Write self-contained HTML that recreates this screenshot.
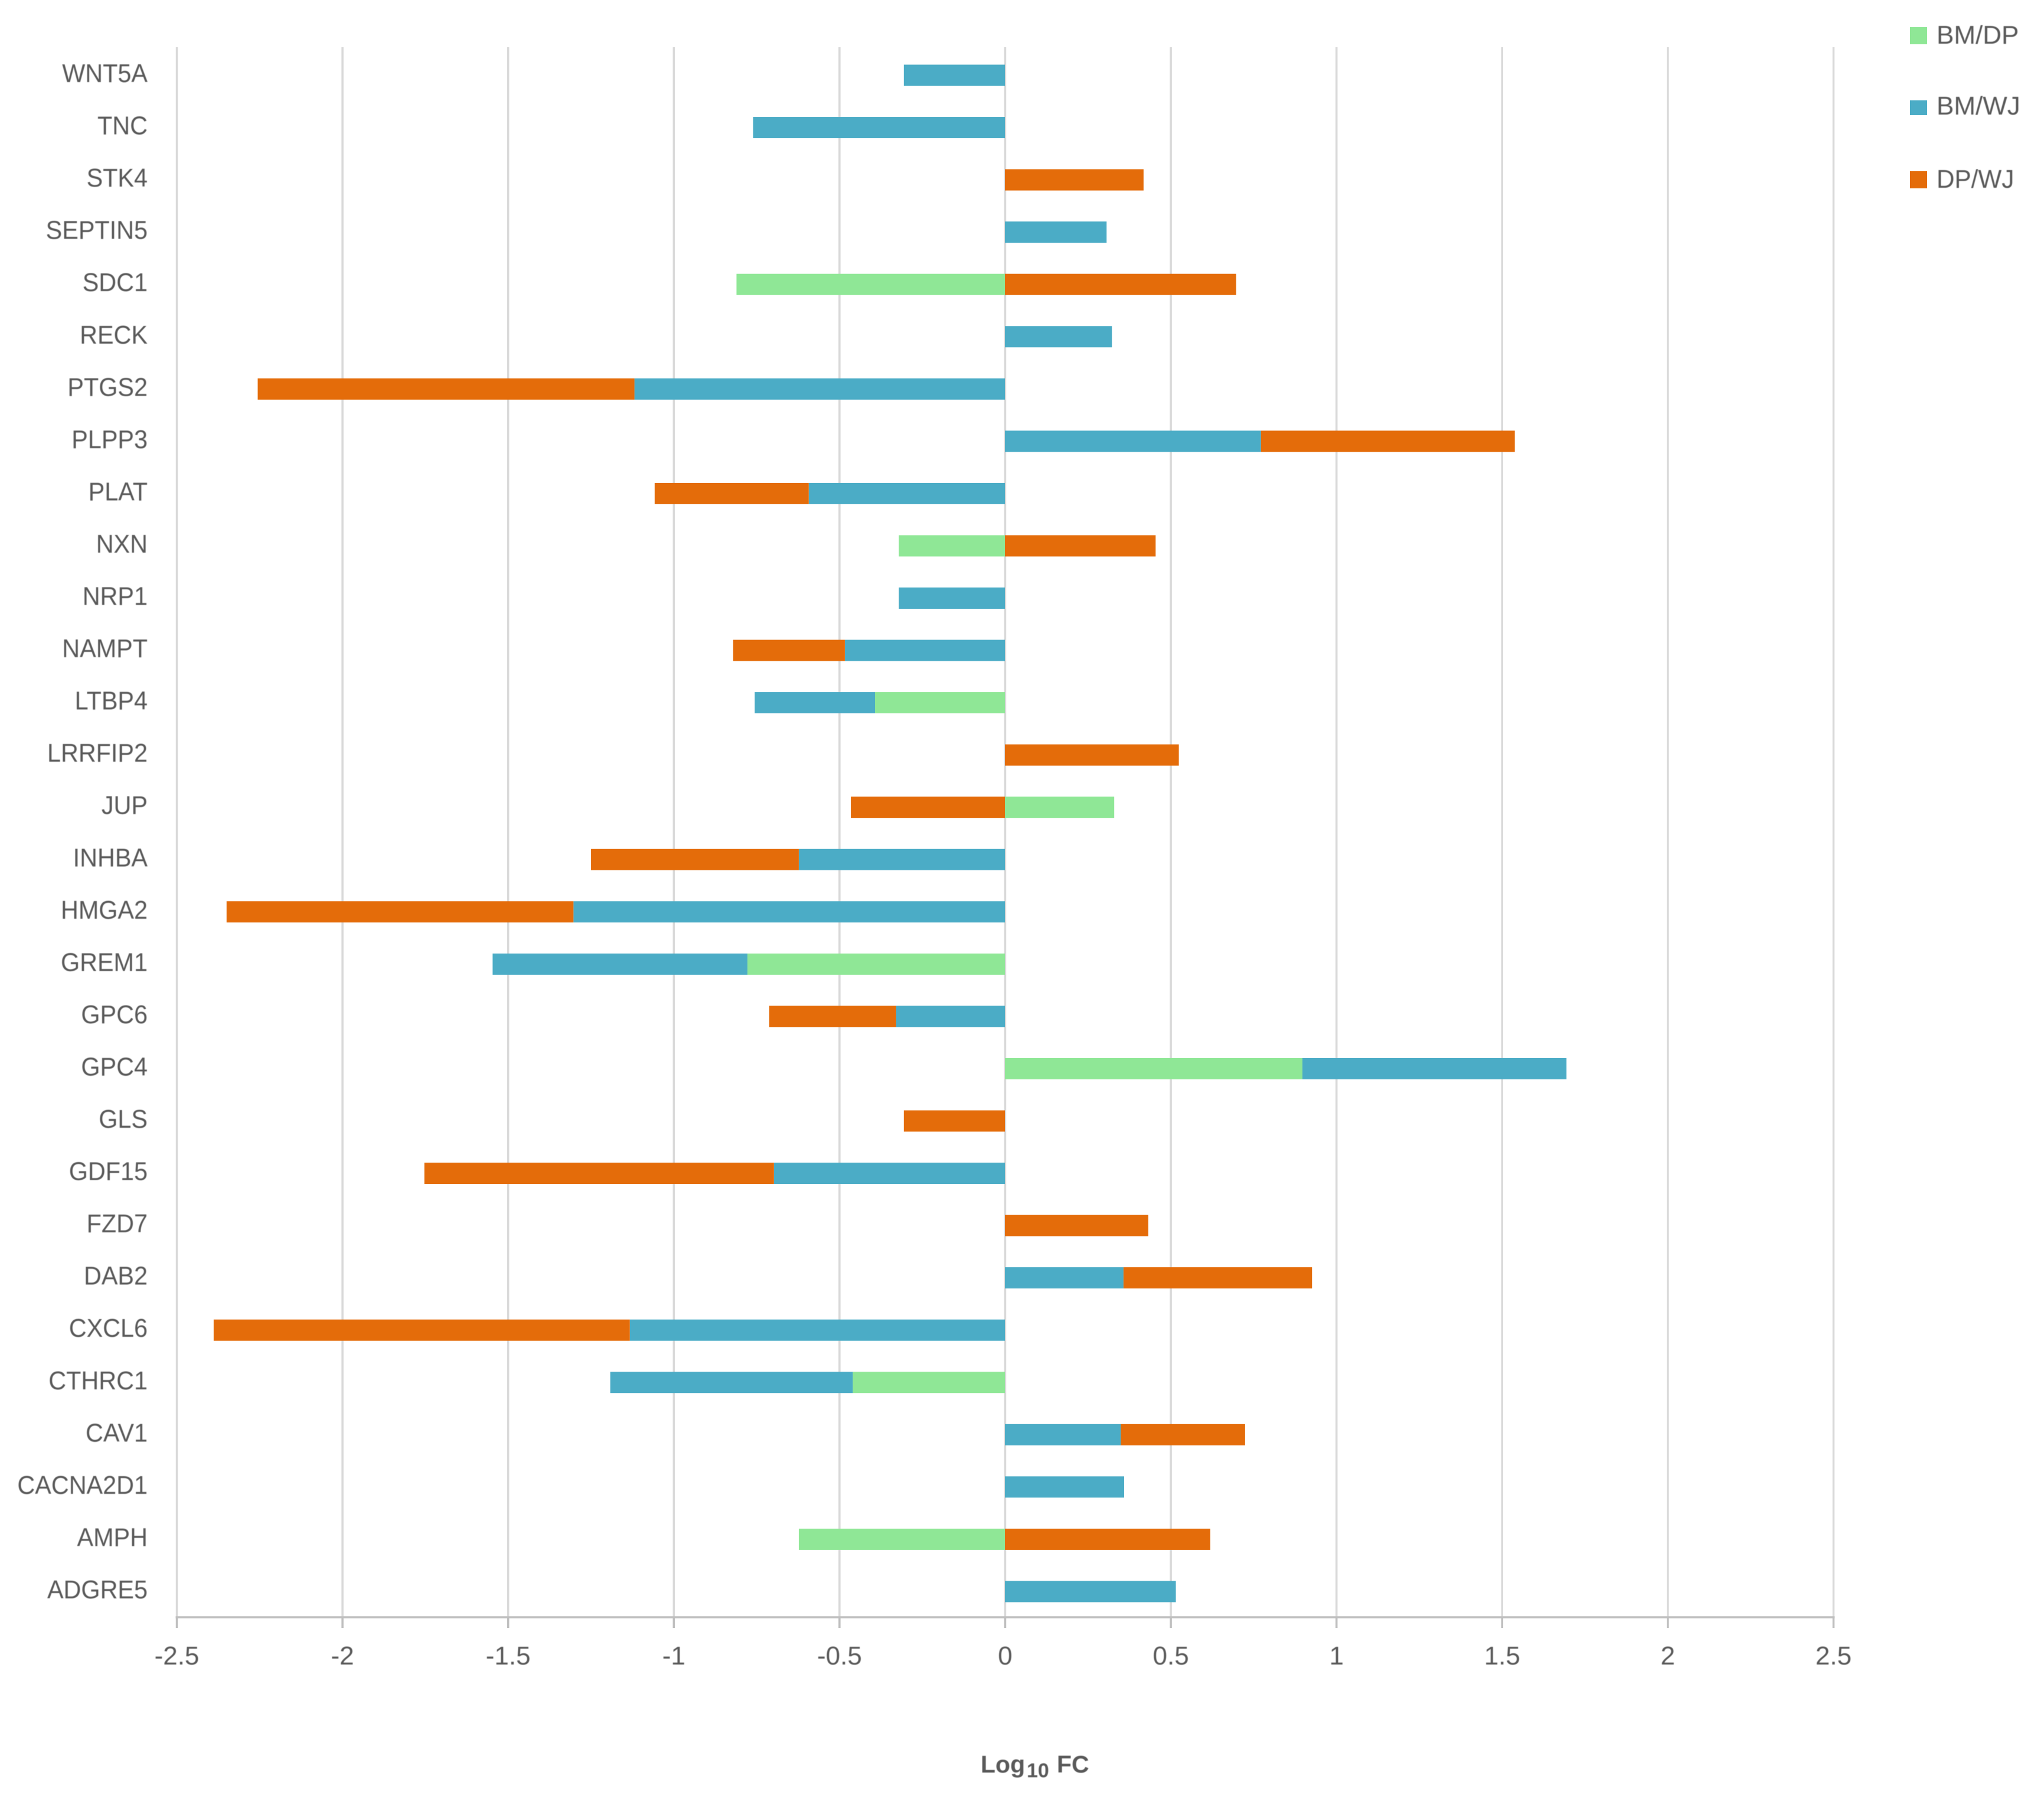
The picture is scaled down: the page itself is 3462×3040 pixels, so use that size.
<!DOCTYPE html>
<html>
<head>
<meta charset="utf-8">
<title>Log10 FC stacked bar chart</title>
<style>
html,body{margin:0;padding:0;background:#fff;width:3462px;height:3040px;overflow:hidden}
svg{display:block}
text{font-family:"Liberation Sans",sans-serif;fill:#595959;filter:blur(.6px)}
</style>
</head>
<body>
<svg id="chart" xmlns="http://www.w3.org/2000/svg" width="3462" height="3040" viewBox="0 0 3462 3040">
  <rect x="0" y="0" width="3462" height="3040" fill="#ffffff"/>
  <g id="grid"></g>
  <g id="bars"></g>
  <g id="axis"></g>
  <g id="xlabels"></g>
  <g id="ylabels"></g>
  <text font-weight="700" font-size="41" y="3002"><tspan x="1661">Log</tspan><tspan x="1739" y="3010" font-size="34">10</tspan><tspan x="1790" y="3002">FC</tspan></text>
  <g>
    <g>
      <rect x="3235" y="46" width="29" height="29" fill="#8FE796"/>
      <text x="3280" y="74" font-size="44">BM/DP</text>
    </g>
    <g>
      <rect x="3235" y="170" width="29" height="25" fill="#4BACC6"/>
      <text x="3280" y="194" font-size="44">BM/WJ</text>
    </g>
    <g>
      <rect x="3235" y="290" width="29" height="29" fill="#E46C0A"/>
      <text x="3280" y="318" font-size="44" transform="translate(3280 0) scale(.96 1) translate(-3280 0)">DP/WJ</text>
    </g>
  </g>
</svg>
<script>
const categories = ["WNT5A","TNC","STK4","SEPTIN5","SDC1","RECK","PTGS2","PLPP3","PLAT","NXN","NRP1","NAMPT","LTBP4","LRRFIP2","JUP","INHBA","HMGA2","GREM1","GPC6","GPC4","GLS","GDF15","FZD7","DAB2","CXCL6","CTHRC1","CAV1","CACNA2D1","AMPH","ADGRE5"];
const bmDp = [0,0,0,0,-0.81,0,0,0,0,-0.32,0,0,-0.392,0,0.33,0,0,-0.777,0,0.898,0,0,0,0,0,-0.459,0,0,-0.622,0];
const bmWj = [-0.305,-0.76,0,0.307,0,0.323,-1.118,0.773,-0.592,0,-0.32,-0.483,-0.363,0,0,-0.622,-1.302,-0.769,-0.328,0.797,0,-0.697,0,0.358,-1.132,-0.732,0.35,0.36,0,0.516];
const dpWj = [0,0,0.4185,0,0.698,0,-1.137,0.766,-0.465,0.455,0,-0.337,0,0.525,-0.465,-0.627,-1.047,0,-0.383,0,-0.305,-1.055,0.433,0.569,-1.256,0,0.375,0,0.62,0];
const xTicks = [-2.5,-2,-1.5,-1,-0.5,0,0.5,1,1.5,2,2.5];

const NS = "http://www.w3.org/2000/svg";
const ZERO_X = 1702.5, UNIT = 561.2;
const FIRST_ROW = 127.5, ROW_STEP = 88.55, BAR_H = 36;
const PLOT_TOP = 80, AXIS_Y = 2739, LABEL_X = 250, LABEL_SQUEEZE = 0.94;

function xScale(v){ return ZERO_X + v * UNIT; }
function yScale(i){ return FIRST_ROW + i * ROW_STEP; }
function make(tag, attrs, parent){
  const el = document.createElementNS(NS, tag);
  for (const k in attrs) el.setAttribute(k, attrs[k]);
  parent.appendChild(el);
  return el;
}

const gridG = document.getElementById("grid");
const axisG = document.getElementById("axis");
const xLabelG = document.getElementById("xlabels");
const yLabelG = document.getElementById("ylabels");
const barG = document.getElementById("bars");

xTicks.forEach(function(t){
  const gl = make("line", {x1:xScale(t), x2:xScale(t), y1:PLOT_TOP, y2:AXIS_Y, stroke:"#d9d9d9", "stroke-width":3.5}, gridG);
  
  
  const tk = make("line", {x1:xScale(t), x2:xScale(t), y1:AXIS_Y, y2:2757, stroke:"#bfbfbf", "stroke-width":3.5}, axisG);
  
  
  const lb = make("text", {x:xScale(t), y:2819, "text-anchor":"middle", "font-size":44}, xLabelG);
  
  
  lb.textContent = String(t);
});
const axisLine = make("line", {x1:xScale(-2.5)-2, x2:xScale(2.5)+2, y1:AXIS_Y, y2:AXIS_Y, stroke:"#bfbfbf", "stroke-width":3.5}, axisG);



const seriesList = [
  {key:"bm-dp", values:bmDp, color:"#8FE796"},
  {key:"bm-wj", values:bmWj, color:"#4BACC6"},
  {key:"dp-wj", values:dpWj, color:"#E46C0A"}
];

categories.forEach(function(name, i){
  const lab = make("text", {"text-anchor":"end", "font-size":44, transform:"translate(" + LABEL_X + " " + (yScale(i)+11.5) + ") scale(" + LABEL_SQUEEZE + " 1)"}, yLabelG);
  
  
  lab.textContent = name;
  let pos = 0, neg = 0;
  seriesList.forEach(function(s){
    const v = s.values[i];
    if (!v) return;
    const start = v > 0 ? pos : neg;
    const end = start + v;
    if (v > 0) pos = end; else neg = end;
    const x0 = xScale(Math.min(start, end));
    const x1 = xScale(Math.max(start, end));
    const r = make("rect", {x:x0-0.5, y:yScale(i)-BAR_H/2, width:x1-x0, height:BAR_H, fill:s.color}, barG);
    
    
    r.setAttribute('data-series', s.key);
    r.setAttribute('data-category', name);
  });
});
</script>
</body>
</html>
